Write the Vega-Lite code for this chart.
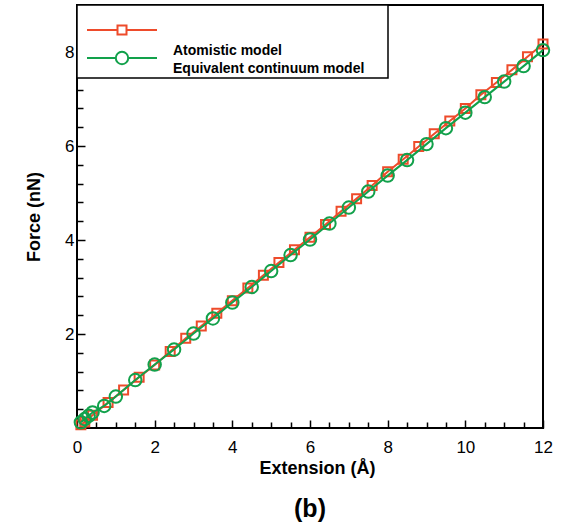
{
  "$schema": "https://vega.github.io/schema/vega-lite/v6.json",
  "width": 466,
  "height": 423,
  "autosize": "none",
  "padding": {"left": 77, "top": 5, "right": 19, "bottom": 98},
  "background": "white",
  "title": {"text": "(b)", "orient": "bottom", "anchor": "middle", "font": "Liberation Sans", "fontSize": 25, "fontWeight": "bold", "color": "black", "offset": 20},
  "config": {
    "view": {"stroke": "black", "strokeWidth": 2},
    "axis": {"grid": false, "domain": false, "tickColor": "black", "tickWidth": 1.5, "labelFont": "Liberation Sans", "labelColor": "black", "labelFontSize": 17, "titleFont": "Liberation Sans", "titleFontSize": 18, "titleFontWeight": "bold", "titleColor": "black", "labelFlush": false, "labelOverlap": false}
  },
  "data": {"values": [
    {"series": "Atomistic model", "x": 0.1, "y": 0.07},
    {"series": "Atomistic model", "x": 0.2, "y": 0.13},
    {"series": "Atomistic model", "x": 0.4, "y": 0.27},
    {"series": "Atomistic model", "x": 0.8, "y": 0.54},
    {"series": "Atomistic model", "x": 1.2, "y": 0.81},
    {"series": "Atomistic model", "x": 1.6, "y": 1.08},
    {"series": "Atomistic model", "x": 2.0, "y": 1.34},
    {"series": "Atomistic model", "x": 2.4, "y": 1.63},
    {"series": "Atomistic model", "x": 2.8, "y": 1.91},
    {"series": "Atomistic model", "x": 3.2, "y": 2.17},
    {"series": "Atomistic model", "x": 3.6, "y": 2.44},
    {"series": "Atomistic model", "x": 4.0, "y": 2.71},
    {"series": "Atomistic model", "x": 4.4, "y": 2.98},
    {"series": "Atomistic model", "x": 4.8, "y": 3.25},
    {"series": "Atomistic model", "x": 5.2, "y": 3.52},
    {"series": "Atomistic model", "x": 5.6, "y": 3.79},
    {"series": "Atomistic model", "x": 6.0, "y": 4.06},
    {"series": "Atomistic model", "x": 6.4, "y": 4.33},
    {"series": "Atomistic model", "x": 6.8, "y": 4.61},
    {"series": "Atomistic model", "x": 7.2, "y": 4.88},
    {"series": "Atomistic model", "x": 7.6, "y": 5.16},
    {"series": "Atomistic model", "x": 8.0, "y": 5.45},
    {"series": "Atomistic model", "x": 8.4, "y": 5.72},
    {"series": "Atomistic model", "x": 8.8, "y": 5.99},
    {"series": "Atomistic model", "x": 9.2, "y": 6.26},
    {"series": "Atomistic model", "x": 9.6, "y": 6.53},
    {"series": "Atomistic model", "x": 10.0, "y": 6.8},
    {"series": "Atomistic model", "x": 10.4, "y": 7.09},
    {"series": "Atomistic model", "x": 10.8, "y": 7.35},
    {"series": "Atomistic model", "x": 11.2, "y": 7.62},
    {"series": "Atomistic model", "x": 11.6, "y": 7.9},
    {"series": "Atomistic model", "x": 12.0, "y": 8.17},
    {"series": "Equivalent continuum model", "x": 0.1, "y": 0.12},
    {"series": "Equivalent continuum model", "x": 0.2, "y": 0.19},
    {"series": "Equivalent continuum model", "x": 0.3, "y": 0.26},
    {"series": "Equivalent continuum model", "x": 0.4, "y": 0.33},
    {"series": "Equivalent continuum model", "x": 0.7, "y": 0.47},
    {"series": "Equivalent continuum model", "x": 1.0, "y": 0.67},
    {"series": "Equivalent continuum model", "x": 1.5, "y": 1.02},
    {"series": "Equivalent continuum model", "x": 2.0, "y": 1.35},
    {"series": "Equivalent continuum model", "x": 2.5, "y": 1.67},
    {"series": "Equivalent continuum model", "x": 3.0, "y": 2.01},
    {"series": "Equivalent continuum model", "x": 3.5, "y": 2.33},
    {"series": "Equivalent continuum model", "x": 4.0, "y": 2.67},
    {"series": "Equivalent continuum model", "x": 4.5, "y": 3.0},
    {"series": "Equivalent continuum model", "x": 5.0, "y": 3.34},
    {"series": "Equivalent continuum model", "x": 5.5, "y": 3.68},
    {"series": "Equivalent continuum model", "x": 6.0, "y": 4.01},
    {"series": "Equivalent continuum model", "x": 6.5, "y": 4.35},
    {"series": "Equivalent continuum model", "x": 7.0, "y": 4.69},
    {"series": "Equivalent continuum model", "x": 7.5, "y": 5.03},
    {"series": "Equivalent continuum model", "x": 8.0, "y": 5.37},
    {"series": "Equivalent continuum model", "x": 8.5, "y": 5.7},
    {"series": "Equivalent continuum model", "x": 9.0, "y": 6.04},
    {"series": "Equivalent continuum model", "x": 9.5, "y": 6.38},
    {"series": "Equivalent continuum model", "x": 10.0, "y": 6.71},
    {"series": "Equivalent continuum model", "x": 10.5, "y": 7.04},
    {"series": "Equivalent continuum model", "x": 11.0, "y": 7.37},
    {"series": "Equivalent continuum model", "x": 11.5, "y": 7.7},
    {"series": "Equivalent continuum model", "x": 12.0, "y": 8.04}
  ]},
  "resolve": {"axis": {"x": "independent", "y": "independent"}},
  "layer": [
    {
      "transform": [{"filter": "datum.series === 'Atomistic model'"}],
      "mark": {"type": "line", "strokeWidth": 2},
      "encoding": {
        "x": {"field": "x", "type": "quantitative", "scale": {"domain": [0, 12], "nice": false},
              "axis": {"orient": "bottom", "values": [0, 2, 4, 6, 8, 10, 12], "title": "Extension (Å)", "tickSize": -8, "labelPadding": 19, "titlePadding": 4, "titleX": 240}},
        "y": {"field": "y", "type": "quantitative", "scale": {"domain": [0, 9], "nice": false},
              "axis": {"orient": "left", "values": [2, 4, 6, 8], "title": "Force (nN)", "tickSize": -8, "labelPadding": 11, "titlePadding": 21}},
        "stroke": {"field": "series", "type": "nominal",
          "scale": {"domain": ["Atomistic model", "Equivalent continuum model"], "range": ["#EE4B2B", "#12A14B"]},
          "legend": {
            "orient": "none", "legendX": 0, "legendY": 0,
            "title": " ", "titleFontSize": 4, "titlePadding": 1,
            "padding": 9, "strokeColor": "black", "fillColor": "white",
            "symbolSize": 400, "symbolOffset": 25, "symbolStrokeWidth": 2,
            "labelExpr": "''",
            "labelFont": "Liberation Sans", "labelFontSize": 14, "labelFontWeight": "bold", "labelColor": "black", "labelOpacity": 0,
            "labelOffset": 67, "rowPadding": 8, "labelLimit": 400,
            "encode": {
              "symbols": {"update": {
                "shape": {"signal": "datum.value === 'Atomistic model' ? 'M25.3,0M-3.5,0H-0.45M0.45,0H3.5M-0.45,-0.45H0.45V0.45H-0.45Z' : 'M25.3,0M0,0.6M-3.5,0H-0.62M0.62,0H3.5M-0.62,0A0.62,0.62,0,1,1,0.62,0A0.62,0.62,0,1,1,-0.62,0Z'"},
                "fill": {"value": "white"},
                "strokeWidth": {"value": 2}
              }},
              "legend": {"update": {"strokeWidth": {"value": 1.5}}}
            }
          }
        }
      }
    },
    {
      "transform": [{"filter": "datum.series === 'Atomistic model'"}],
      "mark": {"type": "point", "size": 81, "filled": false, "strokeWidth": 2, "opacity": 1},
      "encoding": {
        "x": {"field": "x", "type": "quantitative",
              "axis": {"orient": "bottom", "values": [0.5, 1, 1.5, 2.5, 3, 3.5, 4.5, 5, 5.5, 6.5, 7, 7.5, 8.5, 9, 9.5, 10.5, 11, 11.5], "labels": false, "title": null, "tickSize": -6}},
        "y": {"field": "y", "type": "quantitative",
              "axis": {"orient": "left", "values": [0.4, 0.8, 1.2, 1.6, 2.4, 2.8, 3.2, 3.6, 4.4, 4.8, 5.2, 5.6, 6.4, 6.8, 7.2, 7.6, 8.4, 8.8], "labels": false, "title": null, "tickSize": -6}},
        "stroke": {"field": "series", "type": "nominal"},
        "shape": {"field": "series", "type": "nominal",
          "scale": {"domain": ["Atomistic model", "Equivalent continuum model"], "range": ["square", "circle"]},
          "legend": {
            "orient": "top-left", "offset": 0, "title": null,
            "padding": 39, "symbolSize": 100, "symbolOpacity": 0,
            "labelFont": "Liberation Sans", "labelFontSize": 14, "labelFontWeight": "bold", "labelColor": "black",
            "labelOffset": 43, "rowPadding": 4, "labelLimit": 400
          }
        }
      }
    },
    {
      "transform": [{"filter": "datum.series === 'Equivalent continuum model'"}],
      "mark": {"type": "line", "strokeWidth": 2},
      "encoding": {
        "x": {"field": "x", "type": "quantitative", "axis": null},
        "y": {"field": "y", "type": "quantitative", "axis": null},
        "stroke": {"field": "series", "type": "nominal"}
      }
    },
    {
      "transform": [{"filter": "datum.series === 'Equivalent continuum model'"}],
      "mark": {"type": "point", "size": 156, "filled": false, "strokeWidth": 2, "opacity": 1},
      "encoding": {
        "x": {"field": "x", "type": "quantitative", "axis": null},
        "y": {"field": "y", "type": "quantitative", "axis": null},
        "stroke": {"field": "series", "type": "nominal"},
        "shape": {"field": "series", "type": "nominal"}
      }
    }
  ]
}
